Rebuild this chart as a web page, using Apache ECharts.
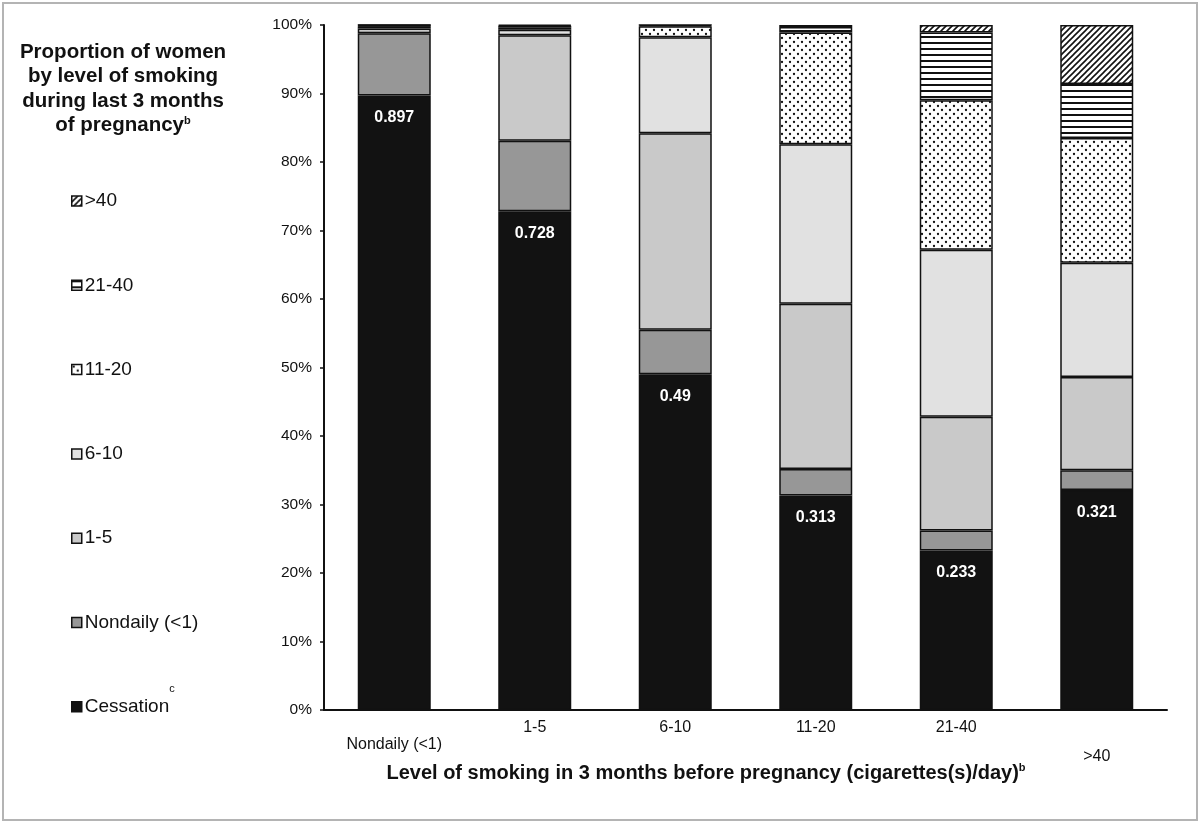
<!DOCTYPE html>
<html>
<head>
<meta charset="utf-8">
<script src="https://cdn.jsdelivr.net/npm/echarts@6/dist/echarts.min.js"></script>
<style>
html,body{margin:0;padding:0;background:#fff;}
#wrap{position:relative;width:1200px;height:823px;}
#chart{position:absolute;left:0;top:0;width:1200px;height:823px;}
#frame{position:absolute;left:2px;top:2px;width:1192px;height:815px;border:2px solid #b4b4b4;pointer-events:none;}
</style>
</head>
<body>
<div id="wrap"><div id="chart"></div><div id="frame"></div></div>
<script>
// Categories (level of smoking before pregnancy)
const categories = ['Nondaily (<1)', '1-5', '6-10', '11-20', '21-40', '>40'];
// Series names (level during last 3 months), bottom to top
const seriesNames = ['Cessation', 'Nondaily (<1)', '1-5', '6-10', '11-20', '21-40', '>40'];
// Proportions
const cessation = [0.897, 0.728, 0.49, 0.313, 0.233, 0.321];
const nondaily  = [0.091, 0.103, 0.065, 0.039, 0.029, 0.029];
const s1to5     = [0.007, 0.154, 0.287, 0.241, 0.166, 0.136];
const s6to10    = [0.003, 0.008, 0.140, 0.233, 0.244, 0.167];
const s11to20   = [0.001, 0.003, 0.016, 0.163, 0.218, 0.182];
const s21to40   = [0.001, 0.003, 0.002, 0.008, 0.099, 0.079];
const sOver40   = [0.000, 0.001, 0.000, 0.003, 0.011, 0.086];
const yTicks = [0, 0.1, 0.2, 0.3, 0.4, 0.5, 0.6, 0.7, 0.8, 0.9, 1.0];

function makeCanvas(w, h, draw) {
  const c = document.createElement('canvas');
  c.width = w; c.height = h;
  const ctx = c.getContext('2d');
  ctx.fillStyle = '#fff';
  ctx.fillRect(0, 0, w, h);
  draw(ctx);
  return c;
}
const dotPattern = makeCanvas(8, 8, ctx => {
  ctx.fillStyle = '#111';
  [[2, 2], [6, 6]].forEach(p => { ctx.beginPath(); ctx.arc(p[0], p[1], 1.15, 0, Math.PI * 2); ctx.fill(); });
});
const hStripe = makeCanvas(4, 6, ctx => {
  ctx.fillStyle = '#111';
  ctx.fillRect(0, 0, 4, 2);
});
const diagStripe = makeCanvas(6, 6, ctx => {
  ctx.strokeStyle = '#111';
  ctx.lineWidth = 1.6;
  ctx.beginPath();
  ctx.moveTo(-1, 7); ctx.lineTo(7, -1);
  ctx.moveTo(-1, 1); ctx.lineTo(1, -1);
  ctx.moveTo(5, 7); ctx.lineTo(7, 5);
  ctx.stroke();
});

const fills = [
  '#121212',
  '#979797',
  '#c9c9c9',
  '#e1e1e1',
  { image: dotPattern, repeat: 'repeat' },
  { image: hStripe, repeat: 'repeat' },
  { image: diagStripe, repeat: 'repeat' }
];
const dataSets = [cessation, nondaily, s1to5, s6to10, s11to20, s21to40, sOver40];

const font = '"Liberation Sans", Arial, sans-serif';

const series = seriesNames.map((name, i) => ({
  name: name,
  type: 'bar',
  stack: 'total',
  barWidth: 73,
  data: dataSets[i],
  itemStyle: { color: fills[i], borderColor: '#111', borderWidth: 1.5 },
  label: i === 0 ? {
    show: true,
    position: 'insideTop',
    distance: 14,
    color: '#fff',
    fontFamily: font,
    fontWeight: 'bold',
    fontSize: 16,
    formatter: p => String(p.value)
  } : { show: false },
  emphasis: { disabled: true }
}));

const chart = echarts.init(document.getElementById('chart'), null, { renderer: 'canvas' });
chart.setOption({
  animation: false,
  backgroundColor: '#fff',
  grid: { left: 324, right: 33, top: 25, bottom: 113, containLabel: false },
  xAxis: {
    type: 'category',
    data: categories.map((c, i) => {
      if (i === 0) return { value: c, textStyle: { padding: [17, 0, 0, 0] } };
      if (i === categories.length - 1) return { value: c, textStyle: { padding: [29, 0, 0, 0] } };
      return c;
    }),
    axisLine: { lineStyle: { color: '#111', width: 2 } },
    axisTick: { show: false },
    axisLabel: { interval: 0, margin: 10, fontSize: 16, color: '#111', fontFamily: font }
  },
  yAxis: {
    type: 'value',
    min: yTicks[0],
    max: yTicks[yTicks.length - 1],
    interval: 0.1,
    splitLine: { show: false },
    axisLine: { show: true, lineStyle: { color: '#111', width: 2 } },
    axisTick: { show: true, length: 4, lineStyle: { color: '#111', width: 1.5 } },
    axisLabel: {
      margin: 12,
      fontSize: 15.5,
      color: '#111',
      fontFamily: font,
      formatter: v => Math.round(v * 100) + '%'
    }
  },
  legend: {
    orient: 'vertical',
    left: 66,
    top: 186,
    itemWidth: 10,
    itemHeight: 10,
    itemGap: 64.3,
    icon: 'rect',
    data: seriesNames.slice().reverse(),
    itemStyle: { borderColor: '#111', borderWidth: 1.5 },
    selectedMode: false,
    textStyle: {
      fontSize: 19,
      lineHeight: 20,
      color: '#111',
      fontFamily: font,
      padding: [0, 0, 0, -2]
    }
  },
  graphic: [
    {
      type: 'text',
      x: 123,
      y: 40,
      style: {
        text: 'Proportion of women\nby level of smoking\nduring last 3 months\nof pregnancy{s|b}',
        align: 'center',
        verticalAlign: 'top',
        fontFamily: font,
        fontWeight: 'bold',
        fontSize: 20.5,
        lineHeight: 24.5,
        fill: '#111',
        rich: {
          s: { fontSize: 11, fontWeight: 'bold', fontFamily: font, fill: '#111', padding: [0, 0, 10, 0] }
        }
      }
    },
    {
      type: 'text',
      x: 172,
      y: 689,
      style: { text: 'c', fontFamily: font, fontSize: 11, fill: '#111', align: 'center', verticalAlign: 'middle' }
    },
    {
      type: 'text',
      x: 706,
      y: 773,
      style: {
        text: 'Level of smoking in 3 months before pregnancy (cigarettes(s)/day){s|b}',
        align: 'center',
        verticalAlign: 'middle',
        fontFamily: font,
        fontWeight: 'bold',
        fontSize: 20,
        fill: '#111',
        rich: {
          s: { fontSize: 11, fontWeight: 'bold', fontFamily: font, fill: '#111', padding: [0, 0, 11, 0] }
        }
      }
    }
  ],
  series: series
});
</script>
</body>
</html>
